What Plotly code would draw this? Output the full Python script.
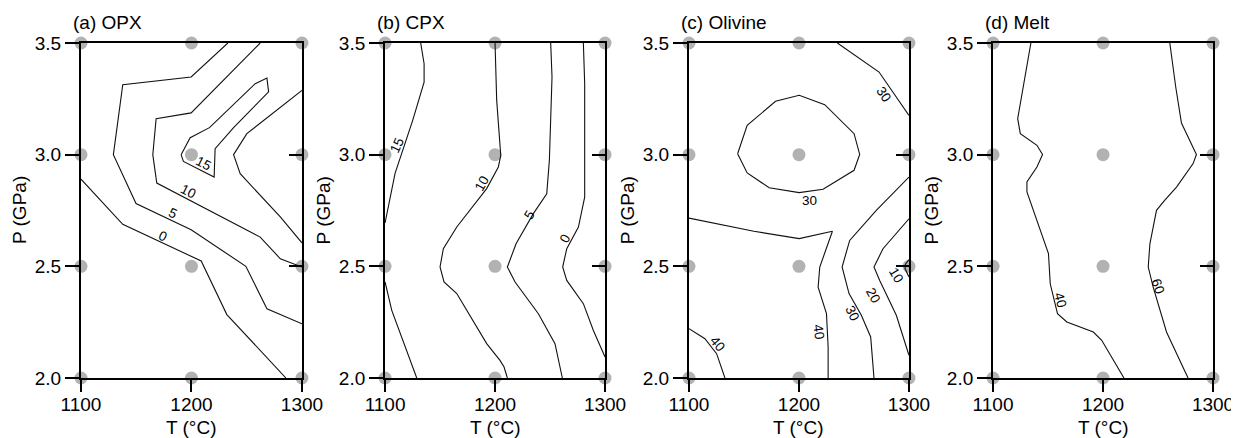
import plotly.graph_objects as go

# ---------------- data ----------------
T_GRID = [1100, 1200, 1300]
P_GRID = [2.0, 2.5, 3.0, 3.5]
PANEL_TITLES = ["(a) OPX", "(b) CPX", "(c) Olivine", "(d) Melt"]
X_TITLE = "T (°C)"
Y_TITLE = "P (GPa)"
T_TICKS = [1100, 1200, 1300]
P_TICKS = [2.0, 2.5, 3.0, 3.5]

# (a) OPX isopleths (T in °C, P in GPa)
OPX_0_T = [1100, 1137.8, 1208.8, 1232.0, 1285.5]
OPX_0_P = [2.890, 2.688, 2.524, 2.284, 2.0]
OPX_5_T = [1232.9, 1199.7, 1137.8, 1129.3, 1149.8, 1199.7, 1249.2, 1268.3, 1300]
OPX_5_P = [3.5, 3.348, 3.313, 3.0, 2.781, 2.664, 2.5, 2.310, 2.243]
OPX_10A_T = [1262.2, 1199.7, 1168.0, 1165.0, 1168.6, 1262.2, 1280.4, 1300]
OPX_10A_P = [3.5, 3.187, 3.161, 3.0, 2.873, 2.631, 2.534, 2.497]
OPX_10B_T = [1300, 1250.1, 1238.1, 1244.1, 1280.4, 1300]
OPX_10B_P = [3.288, 3.094, 3.0, 2.915, 2.721, 2.605]
OPX_15_T = [1190.6, 1198.8, 1216.3, 1257.7, 1268.3, 1269.8, 1238.1, 1221.4, 1220.5, 1192.7, 1190.6]
OPX_15_P = [3.0, 3.076, 3.121, 3.318, 3.343, 3.281, 3.121, 3.027, 2.900, 2.970, 3.0]

# (b) CPX isopleths
CPX_15A_T = [1132.4, 1135.5, 1135.5, 1125.2, 1109.1, 1101.5, 1100]
CPX_15A_P = [3.5, 3.407, 3.325, 3.155, 2.916, 2.722, 2.694]
CPX_15B_T = [1100, 1106.1, 1128.8]
CPX_15B_P = [2.430, 2.303, 2.0]
CPX_10_T = [1200.0, 1201.5, 1205.2, 1203.0, 1192.4, 1165.2, 1153.0, 1150.0, 1153.6, 1165.2, 1192.4, 1204.5, 1208.2, 1211.2]
CPX_10_P = [3.5, 3.243, 2.997, 2.945, 2.848, 2.676, 2.579, 2.497, 2.430, 2.378, 2.154, 2.079, 2.049, 2.0]
CPX_5_T = [1250.6, 1251.8, 1249.4, 1247.0, 1234.8, 1219.1, 1211.2, 1218.2, 1239.4, 1254.5, 1261.2]
CPX_5_P = [3.5, 3.348, 2.975, 2.825, 2.736, 2.601, 2.497, 2.430, 2.288, 2.154, 2.0]
CPX_0_T = [1280.3, 1281.5, 1281.5, 1275.8, 1265.2, 1261.5, 1265.2, 1280.3, 1289.4, 1300]
CPX_0_P = [3.5, 3.318, 2.810, 2.676, 2.579, 2.497, 2.437, 2.333, 2.213, 2.094]

# (c) Olivine isopleths
OL_30A_T = [1144.2, 1152.9, 1178.7, 1200.2, 1223.4, 1250.1, 1255.2, 1250.1, 1221.9, 1200.2, 1172.9, 1152.9, 1144.2]
OL_30A_P = [3.004, 3.131, 3.239, 3.266, 3.224, 3.094, 3.001, 2.930, 2.845, 2.830, 2.852, 2.918, 3.004]
OL_30B_T = [1234.9, 1272.8, 1300]
OL_30B_P = [3.5, 3.370, 3.176]
OL_40A_T = [1100, 1159.0, 1200.2, 1230.4, 1218.9, 1217.4, 1225.0, 1226.5, 1226.5]
OL_40A_P = [2.716, 2.657, 2.624, 2.657, 2.497, 2.407, 2.288, 2.139, 2.0]
OL_40B_T = [1100, 1114.5, 1125.1, 1132.7]
OL_40B_P = [2.221, 2.176, 2.109, 2.0]
OL_30C_T = [1300, 1270.3, 1246.1, 1239.2, 1245.5, 1256.7, 1265.2, 1268.2]
OL_30C_P = [2.900, 2.751, 2.616, 2.497, 2.378, 2.281, 2.184, 2.0]
OL_20_T = [1300, 1276.4, 1268.2, 1273.4, 1288.5, 1300]
OL_20_P = [2.713, 2.579, 2.497, 2.437, 2.281, 2.102]
OL_10_T = [1300, 1296.7, 1296.4, 1300]
OL_10_P = [2.530, 2.509, 2.490, 2.452]

# (d) Melt isopleths
MELT_40_T = [1134.4, 1122.4, 1124.8, 1139.9, 1145.0, 1139.9, 1130.8, 1130.8, 1150.4, 1152.0, 1158.6, 1167.1, 1191.2, 1198.8, 1219.0]
MELT_40_P = [3.5, 3.161, 3.094, 3.042, 3.001, 2.945, 2.878, 2.833, 2.557, 2.422, 2.288, 2.251, 2.206, 2.169, 2.0]
MELT_60_T = [1260.7, 1266.1, 1271.3, 1278.8, 1284.9, 1281.9, 1266.8, 1256.2, 1248.6, 1242.6, 1241.1, 1245.6, 1257.7, 1277.3]
MELT_60_P = [3.5, 3.303, 3.142, 3.064, 3.001, 2.960, 2.855, 2.796, 2.751, 2.601, 2.497, 2.407, 2.206, 2.0]

PANEL_LINES = [
    [(OPX_0_T, OPX_0_P), (OPX_5_T, OPX_5_P), (OPX_10A_T, OPX_10A_P), (OPX_10B_T, OPX_10B_P), (OPX_15_T, OPX_15_P)],
    [(CPX_15A_T, CPX_15A_P), (CPX_15B_T, CPX_15B_P), (CPX_10_T, CPX_10_P), (CPX_5_T, CPX_5_P), (CPX_0_T, CPX_0_P)],
    [(OL_30A_T, OL_30A_P), (OL_30B_T, OL_30B_P), (OL_40A_T, OL_40A_P), (OL_40B_T, OL_40B_P),
     (OL_30C_T, OL_30C_P), (OL_20_T, OL_20_P), (OL_10_T, OL_10_P)],
    [(MELT_40_T, MELT_40_P), (MELT_60_T, MELT_60_P)],
]

# isopleth labels: text, T, P, angle
OPX_LABELS = [("0", 1174.6, 2.634, 25), ("5", 1183.7, 2.736, 25), ("10", 1197.3, 2.837, 27), ("15", 1210.9, 2.960, 27)]
CPX_LABELS = [("15", 1110.6, 3.043, -66), ("10", 1187.9, 2.872, -61), ("5", 1231.8, 2.730, -58), ("0", 1263.6, 2.625, -62)]
OL_LABELS = [("30", 1209.4, 2.797, 0), ("30", 1277.0, 3.269, 55), ("40", 1217.6, 2.207, 82), ("40", 1125.7, 2.154, 50),
             ("30", 1248.8, 2.290, 64), ("20", 1267.6, 2.371, 62), ("10", 1288.8, 2.461, 60)]
MELT_LABELS = [("40", 1161.5, 2.349, 75), ("60", 1250.3, 2.412, 72)]
PANEL_LABELS = [OPX_LABELS, CPX_LABELS, OL_LABELS, MELT_LABELS]

# ---------------- figure ----------------
FONT = "Liberation Sans, Arial, sans-serif"
# page body has an 8 px margin, so the figure is 8 px smaller than the window
X_DOMAINS = [(0.0593, 0.2388), (0.3063, 0.4850), (0.5532, 0.7319), (0.8002, 0.9789)]
Y_DOMAIN = (0.1395, 0.9186)

fig = go.Figure()
annotations = []
layout = dict(
    width=1231, height=430,
    margin=dict(l=0, r=0, t=0, b=0, autoexpand=False),
    paper_bgcolor="white", plot_bgcolor="white",
    showlegend=False,
    font=dict(family=FONT, size=19, color="black"),
)

for i in range(4):
    n = i + 1
    xa = "x" if n == 1 else f"x{n}"
    ya = "y" if n == 1 else f"y{n}"
    yr = f"y{n + 4}"
    gx = [t for p in P_GRID for t in T_GRID]
    gy = [p for p in P_GRID for t in T_GRID]
    fig.add_trace(go.Scatter(x=gx, y=gy, mode="markers", xaxis=xa, yaxis=ya,
                             marker=dict(size=13, color="#b2b2b2"), cliponaxis=False,
                             hoverinfo="skip"))
    for (tx, py) in PANEL_LINES[i]:
        fig.add_trace(go.Scatter(x=tx, y=py, mode="lines", xaxis=xa, yaxis=ya,
                                 line=dict(color="#111111", width=1.1), hoverinfo="skip"))
    fig.add_trace(go.Scatter(x=[None], y=[None], xaxis=xa, yaxis=yr, mode="markers",
                             hoverinfo="skip"))
    for (txt, t, p, ang) in PANEL_LABELS[i]:
        annotations.append(dict(x=t, y=p, xref=xa, yref=ya, text=txt, showarrow=False,
                                textangle=ang, font=dict(size=13.5, family=FONT, color="black")))
    annotations.append(dict(x=-0.045, y=1.06, xref=f"{xa} domain", yref=f"{ya} domain",
                            text=PANEL_TITLES[i], showarrow=False, xanchor="left", yanchor="middle",
                            font=dict(size=19, family=FONT, color="black")))
    annotations.append(dict(x=0.5, y=-0.148, xref=f"{xa} domain", yref=f"{ya} domain",
                            text=X_TITLE, showarrow=False, xanchor="center", yanchor="middle",
                            font=dict(size=19, family=FONT, color="black")))
    annotations.append(dict(x=-0.278, y=0.5, xref=f"{xa} domain", yref=f"{ya} domain",
                            text=Y_TITLE, showarrow=False, xanchor="center", yanchor="middle",
                            textangle=-90, font=dict(size=19, family=FONT, color="black")))

    xkey = "xaxis" if n == 1 else f"xaxis{n}"
    ykey = "yaxis" if n == 1 else f"yaxis{n}"
    layout[xkey] = dict(domain=list(X_DOMAINS[i]), anchor=ya, range=[1100, 1300], automargin=False,
                        tickvals=T_TICKS, ticktext=[str(v) for v in T_TICKS],
                        ticks="outside", ticklen=12, tickwidth=1.6, tickcolor="black",
                        ticklabelstandoff=-4,
                        showline=True, linewidth=2, linecolor="black", mirror=True,
                        showgrid=False, zeroline=False, tickfont=dict(size=19))
    layout[ykey] = dict(domain=list(Y_DOMAIN), anchor=xa, range=[2.0, 3.5], automargin=False,
                        tickvals=P_TICKS, ticktext=[f"{v:.1f}" for v in P_TICKS],
                        ticks="outside", ticklen=14, tickwidth=1.6, tickcolor="black",
                        showline=True, linewidth=2, linecolor="black", mirror=True,
                        showgrid=False, zeroline=False, tickfont=dict(size=19))
    layout[f"yaxis{n + 4}"] = dict(domain=list(Y_DOMAIN), anchor=xa, overlaying=ya, side="right",
                                   range=[2.0, 3.5], tickvals=P_TICKS, ticks="inside", ticklen=13,
                                   tickwidth=1.6, tickcolor="black", showticklabels=False, automargin=False,
                                   showline=False, showgrid=False, zeroline=False)

layout["annotations"] = annotations
fig.update_layout(**layout)
fig.write_html("out.html")
